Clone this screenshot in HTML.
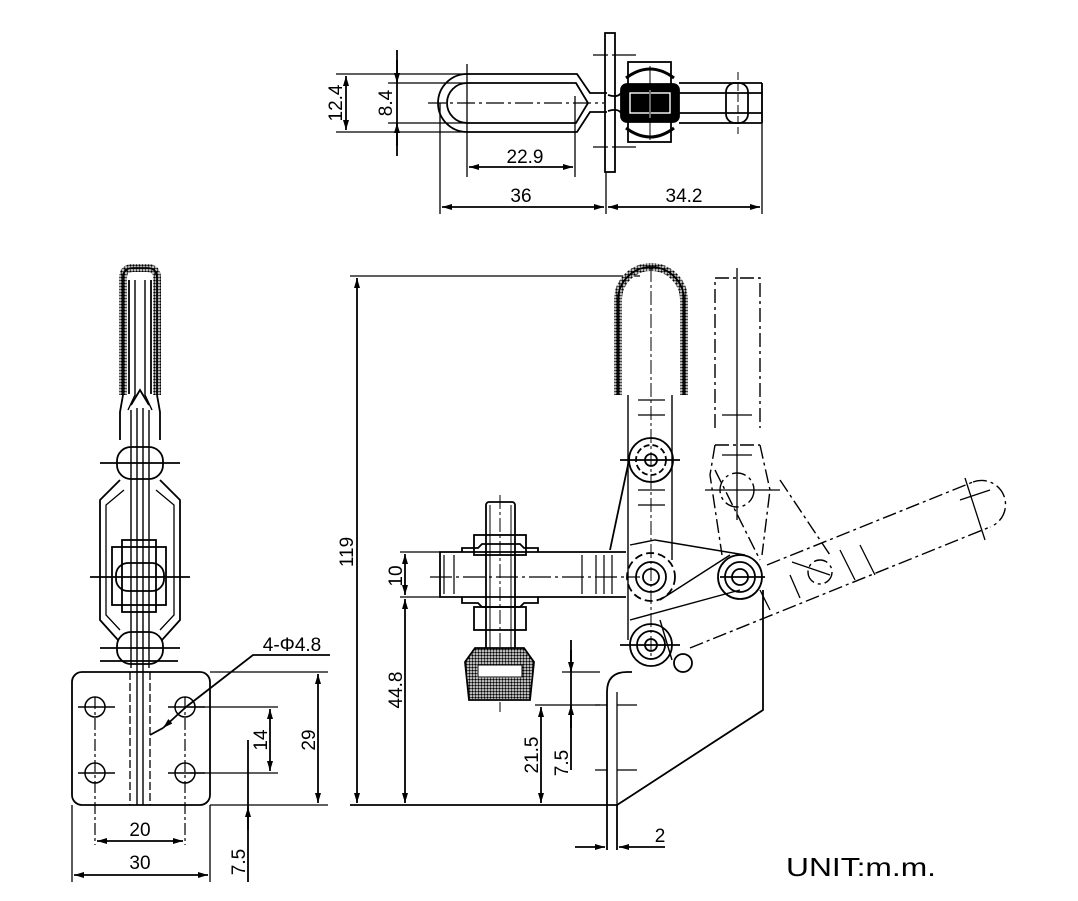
<!DOCTYPE html>
<html><head><meta charset="utf-8"><style>
html,body{margin:0;padding:0;background:#fff;}
svg{display:block;}
text{font-family:"Liberation Sans",Arial,sans-serif;fill:#000;}
</style></head><body>
<svg width="1078" height="901" viewBox="0 0 1078 901" xmlns="http://www.w3.org/2000/svg">
<defs>
<marker id="a" viewBox="0 0 10 10" refX="10" refY="5" markerWidth="10" markerHeight="10" orient="auto-start-reverse" markerUnits="userSpaceOnUse"><path d="M0,2 L10,5 L0,8 Z" fill="#000"/></marker>
<pattern id="h" width="3" height="3" patternUnits="userSpaceOnUse"><rect width="3" height="3" fill="#fff"/><circle cx="1.5" cy="1.5" r="1.25" fill="#000"/></pattern>
</defs>
<g fill="none" stroke="#000" stroke-width="1.8">

<!-- ===== TOP VIEW ===== -->
<line x1="336" y1="74" x2="470" y2="74" stroke-width="1.3"/>
<line x1="336" y1="132" x2="470" y2="132" stroke-width="1.3"/>
<line x1="346" y1="76" x2="346" y2="130" marker-start="url(#a)" marker-end="url(#a)"/>
<line x1="397" y1="50" x2="397" y2="156"/>
<line x1="397" y1="60" x2="397" y2="83" marker-end="url(#a)"/>
<line x1="397" y1="146" x2="397" y2="123" marker-end="url(#a)"/>
<line x1="388" y1="83" x2="470" y2="83" stroke-width="1.3"/>
<line x1="388" y1="123" x2="470" y2="123" stroke-width="1.3"/>
<path d="M467,74 H577 L590,93 H607 M467,132 H577 L590,112 H607"/>
<path d="M467,74 A29,29 0 0 0 467,132"/>
<path d="M467,83 H576 L588,103 L576,123 H467 A20,20 0 0 1 467,83"/>
<line x1="428" y1="103" x2="604" y2="103" stroke-dasharray="18,4,3,4" stroke-width="1.2"/>
<line x1="467" y1="64" x2="467" y2="177" stroke-width="1.3"/>
<line x1="575" y1="96" x2="575" y2="177" stroke-width="1.3"/>
<line x1="469" y1="167" x2="573" y2="167" marker-start="url(#a)" marker-end="url(#a)"/>
<line x1="440" y1="103" x2="440" y2="214" stroke-width="1.3"/>
<line x1="442" y1="207" x2="604" y2="207" marker-start="url(#a)" marker-end="url(#a)"/>
<line x1="608" y1="207" x2="760" y2="207" marker-start="url(#a)" marker-end="url(#a)"/>
<line x1="762" y1="85" x2="762" y2="214" stroke-width="1.3"/>
<rect x="605" y="33" width="10" height="139"/>
<line x1="606" y1="172" x2="606" y2="214" stroke-width="1.3"/>
<path d="M593,55 H608 M612,55 H636 M593,147 H608 M612,147 H636" stroke-width="1.3"/>
<rect x="628" y="62" width="43" height="80"/>
<rect x="621" y="84" width="58" height="38" fill="#000" rx="6"/>
<rect x="630" y="93" width="40" height="20" stroke="#fff" stroke-width="1.4"/>
<line x1="650" y1="90" x2="650" y2="118" stroke="#fff"/>
<path d="M626,78 Q650,60 674,78 M626,128 Q650,146 674,128" stroke-width="3"/>
<line x1="650" y1="66" x2="650" y2="140" stroke-width="1"/>
<path d="M608,95 Q618,98 621,93 M608,111 Q618,108 621,113"/>
<path d="M679,83 H762 M679,93 H762 M679,113 H762 M679,123 H762 M762,83 V123"/>
<rect x="726" y="83" width="22" height="40" rx="9"/>
<line x1="738" y1="72" x2="738" y2="134" stroke-width="1" stroke-dasharray="8,3"/>

<!-- ===== LEFT VIEW ===== -->
<path d="M123,395 V278 Q123,268 133,268 H147 Q157,268 157,278 V395" stroke="url(#h)" stroke-width="8"/>
<path d="M123,395 V278 Q123,268 133,268 H147 Q157,268 157,278 V395"/>
<path d="M129,394 V280 M151,394 V280"/>
<path d="M135,280 V395 L128,410 M145,280 V395 L152,410" stroke-width="1.4"/>
<path d="M123,395 L120,412 V440 M157,395 L160,412 V440"/>
<path d="M131,405 L140,390 L149,405"/>
<path d="M131,410 V668 M149,410 V668 M137,408 V805 M143,408 V805" stroke-width="1.4"/>
<rect x="117" y="447" width="46" height="32" rx="14"/>
<line x1="100" y1="463" x2="180" y2="463"/>
<path d="M120,480 L100,500 V620 L118,640 M160,480 L180,500 V620 L162,640"/>
<path d="M124,490 L106,505 V615 L120,630 M156,490 L174,505 V615 L160,630" stroke-width="1.3"/>
<rect x="112" y="547" width="54" height="58"/>
<rect x="122" y="540" width="34" height="72"/>
<rect x="116" y="563" width="48" height="28" rx="12"/>
<line x1="90" y1="577" x2="190" y2="577"/>
<rect x="117" y="632" width="46" height="32" rx="14"/>
<line x1="100" y1="648" x2="180" y2="648"/>
<line x1="100" y1="661" x2="178" y2="661"/>
<rect x="72" y="672" width="138" height="133" rx="10"/>
<path d="M130,672 V805 M150,672 V805" stroke-dasharray="8,3" stroke-width="1.3"/>
<g stroke-width="1.5">
<circle cx="95" cy="707" r="10"/><circle cx="185" cy="707" r="10"/>
<circle cx="95" cy="773" r="10"/><circle cx="185" cy="773" r="10"/>
<path d="M78,707 H115 M168,707 H205 M78,773 H115 M168,773 H205"/>
<path d="M95,697 V845 M185,697 V845" stroke-width="1.2" stroke-dasharray="12,3,3,3"/>
</g>
<line x1="97" y1="841" x2="183" y2="841" marker-start="url(#a)" marker-end="url(#a)"/>
<line x1="72" y1="805" x2="72" y2="882" stroke-width="1.3"/>
<line x1="210" y1="805" x2="210" y2="882" stroke-width="1.3"/>
<line x1="74" y1="875" x2="208" y2="875" marker-start="url(#a)" marker-end="url(#a)"/>
<line x1="190" y1="707" x2="278" y2="707" stroke-width="1.3"/>
<line x1="190" y1="773" x2="278" y2="773" stroke-width="1.3"/>
<line x1="270" y1="709" x2="270" y2="771" marker-start="url(#a)" marker-end="url(#a)"/>
<line x1="210" y1="672" x2="328" y2="672" stroke-width="1.3"/>
<line x1="210" y1="805" x2="328" y2="805" stroke-width="1.3"/>
<line x1="318" y1="674" x2="318" y2="803" marker-start="url(#a)" marker-end="url(#a)"/>
<line x1="248" y1="740" x2="248" y2="882"/>
<line x1="248" y1="830" x2="248" y2="807" marker-end="url(#a)"/>
<path d="M150,735 L163,728"/>
<line x1="163" y1="728" x2="186" y2="707" marker-start="url(#a)"/>
<path d="M186,707 L253,655 H330"/>

<!-- ===== FRONT VIEW ===== -->
<line x1="350" y1="276" x2="640" y2="276" stroke-width="1.3"/>
<line x1="357" y1="278" x2="357" y2="803" marker-start="url(#a)" marker-end="url(#a)"/>
<line x1="350" y1="805" x2="618" y2="805"/>
<line x1="400" y1="552" x2="440" y2="552" stroke-width="1.3"/>
<line x1="400" y1="597" x2="440" y2="597" stroke-width="1.3"/>
<line x1="405" y1="554" x2="405" y2="595" marker-start="url(#a)" marker-end="url(#a)"/>
<line x1="405" y1="599" x2="405" y2="803" marker-start="url(#a)" marker-end="url(#a)"/>
<path d="M626,552 H440 V597 H626"/>
<path d="M444,555 V594 M454,555 V594 M582,555 V594 M596,555 V594 M604,555 V594 M612,555 V594" stroke-width="1.2"/>
<line x1="430" y1="577" x2="640" y2="577" stroke-dasharray="22,4,3,4" stroke-width="1.2"/>
<rect x="486" y="502" width="29" height="148" rx="3"/>
<line x1="500" y1="495" x2="500" y2="712" stroke-width="1" stroke-dasharray="14,3,3,3"/>
<path d="M490,505 V650 M511,505 V650" stroke-width="1"/>
<rect x="474" y="535" width="52" height="20"/>
<path d="M462,552 V548 H478 L482,544 H520 L524,548 H538 V552"/>
<path d="M462,597 V603 H478 L482,607 H520 L524,603 H538 V597"/>
<rect x="474" y="607" width="52" height="23"/>
<path d="M475,648 L465,662 L469,700 H530 L534,662 L524,648 Z" fill="url(#h)"/>
<rect x="478" y="665" width="44" height="12" fill="#fff" stroke-width="1"/>
<path d="M607,850 V692 Q607,672 627,672 H632"/>
<path d="M617,850 V805 L763,710 V590"/>
<path d="M617,692 V805" stroke-width="1.3"/>
<path d="M595,705 H607 M617,705 H637 M595,770 H607 M617,770 H637" stroke-width="1.3"/>
<line x1="535" y1="705" x2="600" y2="705" stroke-width="1.3"/>
<line x1="562" y1="672" x2="600" y2="672" stroke-width="1.3"/>
<line x1="541" y1="707" x2="541" y2="803" marker-start="url(#a)" marker-end="url(#a)"/>
<line x1="571" y1="640" x2="571" y2="770"/>
<line x1="571" y1="650" x2="571" y2="672" marker-end="url(#a)"/>
<line x1="571" y1="728" x2="571" y2="705" marker-end="url(#a)"/>
<line x1="575" y1="847" x2="605" y2="847" marker-end="url(#a)"/>
<line x1="665" y1="847" x2="619" y2="847" marker-end="url(#a)"/>
<path d="M618,395 V300 A33,33 0 0 1 684,300 V395" stroke="url(#h)" stroke-width="8"/>
<path d="M618,395 V300 A33,33 0 0 1 684,300 V395"/>
<path d="M628,395 V640 M672,395 V560" stroke-width="1.4"/>
<path d="M638,400 H665 M638,415 H665 M638,490 H665 M638,505 H665" stroke-width="1.3"/>
<line x1="651" y1="268" x2="651" y2="660" stroke-width="1" stroke-dasharray="14,3,3,3"/>
<circle cx="651" cy="460" r="22"/><circle cx="651" cy="460" r="15" stroke-dasharray="6,3"/><circle cx="651" cy="460" r="6"/>
<line x1="620" y1="460" x2="680" y2="460"/>
<path d="M629,460 L610,550"/>
<circle cx="651" cy="577" r="24" stroke-dasharray="8,4"/><circle cx="651" cy="577" r="15"/><circle cx="651" cy="577" r="8"/>
<path d="M630,545 L655,540 L745,555 M630,620 L740,590 M660,600 L730,555" stroke-width="1.4"/>
<circle cx="740" cy="577" r="22"/><circle cx="740" cy="577" r="15"/><circle cx="740" cy="577" r="8"/>
<line x1="720" y1="577" x2="765" y2="577"/>
<circle cx="651" cy="645" r="21"/><circle cx="651" cy="645" r="14"/><circle cx="651" cy="645" r="6"/>
<line x1="620" y1="645" x2="680" y2="645"/>
<circle cx="683" cy="663" r="9"/>
<path d="M672,660 L660,620" stroke-width="1.4"/>
<g stroke-dasharray="14,4,3,4" stroke-width="1.4">
<path d="M715,428 V278 H760 V428"/>
<path d="M715,445 H760 M715,445 L710,475 L722,555 M760,445 L770,490 L762,555"/>
<path d="M715,470 L760,560 M780,480 L830,555"/>
<circle cx="737" cy="490" r="17"/>
<path d="M767,565 L973,482 M690,648 L990,527"/>
<path d="M973,482 A23,23 0 0 1 990,527"/>
<circle cx="820" cy="572" r="12"/>
</g>
<path d="M737,268 V520 M705,490 H780 M722,415 H752 M722,455 H752 M960,500 L990,490 M965,478 L985,540 M792,562 L830,575 M840,550 L855,580 M860,545 L875,575 M790,575 L800,598 M760,590 L770,610" stroke-width="1.3"/>
</g>

<g font-size="19">
<text x="0" y="0" transform="translate(342,103) rotate(-90)" text-anchor="middle">12.4</text>
<text x="0" y="0" transform="translate(392,103) rotate(-90)" text-anchor="middle">8.4</text>
<text x="525" y="163" text-anchor="middle">22.9</text>
<text x="521" y="202" text-anchor="middle">36</text>
<text x="684" y="202" text-anchor="middle">34.2</text>
<text x="292" y="651" text-anchor="middle">4-Φ4.8</text>
<text x="0" y="0" transform="translate(267,740) rotate(-90)" text-anchor="middle">14</text>
<text x="0" y="0" transform="translate(315,740) rotate(-90)" text-anchor="middle">29</text>
<text x="140" y="836" text-anchor="middle">20</text>
<text x="140" y="869" text-anchor="middle">30</text>
<text x="0" y="0" transform="translate(245,862) rotate(-90)" text-anchor="middle">7.5</text>
<text x="0" y="0" transform="translate(353,552) rotate(-90)" text-anchor="middle">119</text>
<text x="0" y="0" transform="translate(402,576) rotate(-90)" text-anchor="middle">10</text>
<text x="0" y="0" transform="translate(402,690) rotate(-90)" text-anchor="middle">44.8</text>
<text x="0" y="0" transform="translate(538,755) rotate(-90)" text-anchor="middle">21.5</text>
<text x="0" y="0" transform="translate(568,763) rotate(-90)" text-anchor="middle">7.5</text>
<text x="660" y="842" text-anchor="middle">2</text>
</g>
<text x="786" y="876" font-size="26" textLength="150" lengthAdjust="spacingAndGlyphs">UNIT:m.m.</text>
</svg>
</body></html>
